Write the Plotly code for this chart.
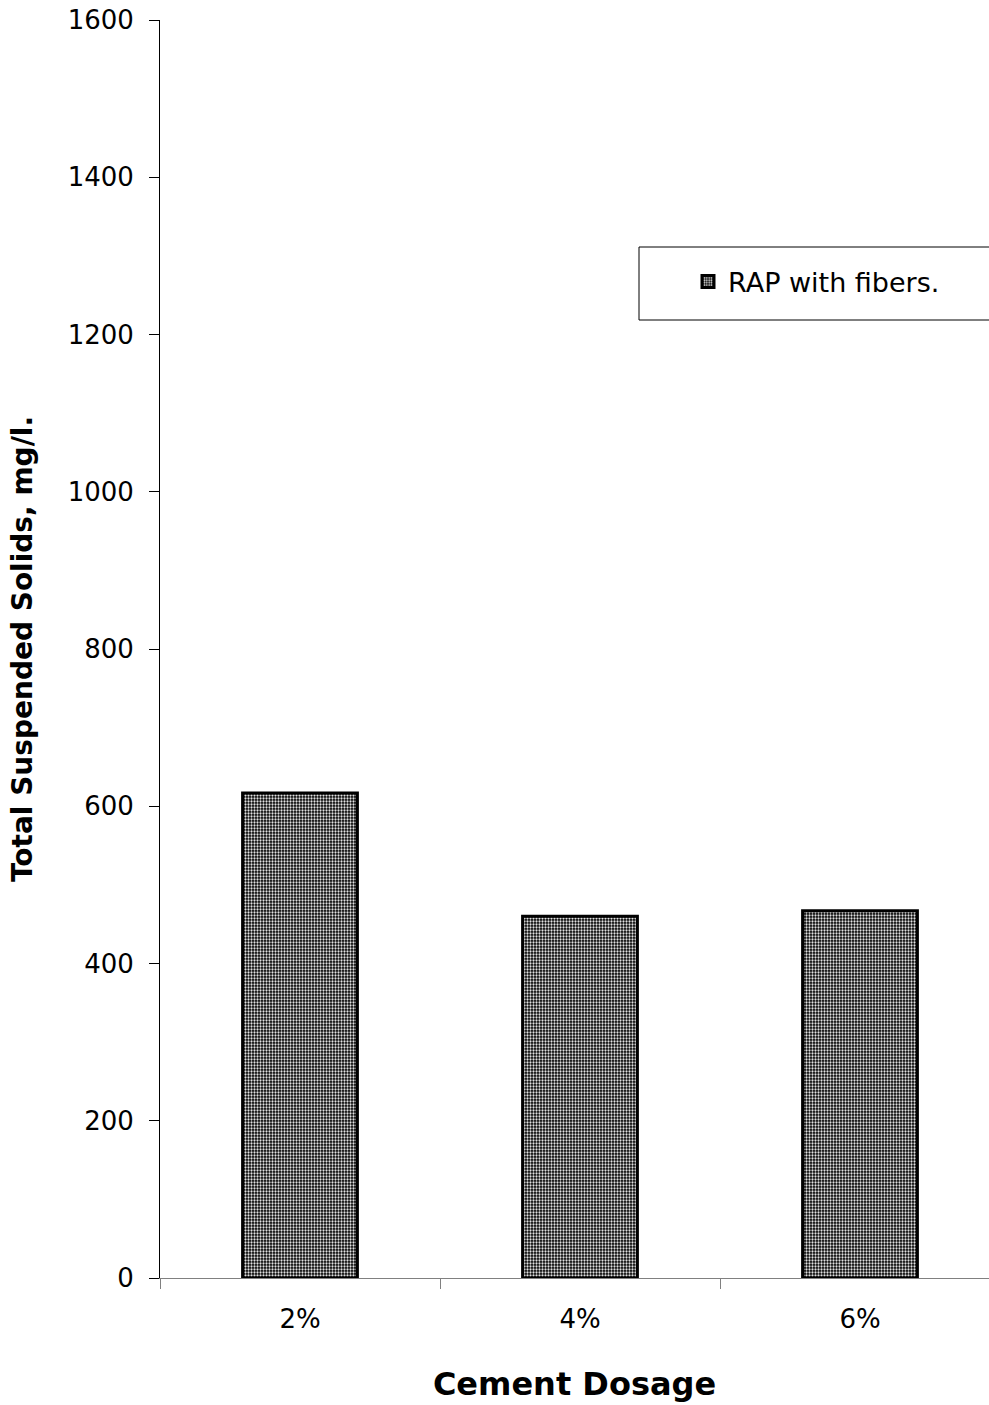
import plotly.graph_objects as go

# Cement dosage categories and measured total suspended solids (mg/l)
dosages = ["2%", "4%", "6%"]
tss_rap_fibers = [617, 460, 467]
series_name = "RAP with fibers."

y_ticks = [0, 200, 400, 600, 800, 1000, 1200, 1400, 1600]

FONT = "DejaVu Sans"

fig = go.Figure()
fig.add_trace(go.Bar(
    x=dosages,
    y=tss_rap_fibers,
    name=series_name,
    width=0.41,
    marker=dict(
        color="black",
        line=dict(color="black", width=3),
        pattern=dict(shape=".", fgcolor="#e0e0e0", bgcolor="black",
                     size=3, solidity=0.45, fillmode="replace"),
    ),
    showlegend=True,
))

# legend frame (runs off the right edge of the page)
fig.add_shape(type="rect", xref="paper", yref="paper",
              x0=(639 - 160) / 829, x1=1.05,
              y0=(1278 - 320) / 1258, y1=(1278 - 247) / 1258,
              line=dict(color="black", width=1), fillcolor="white", layer="below")

fig.update_layout(
    width=989, height=1405,
    margin=dict(l=160, r=0, t=20, b=127, autoexpand=False),
    paper_bgcolor="white", plot_bgcolor="white",
    font=dict(family=FONT, size=26, color="black"),
    bargap=0.59,
    showlegend=True,
    legend=dict(
        x=(688 - 160) / 829, y=(1278 - 282) / 1258,
        xanchor="left", yanchor="middle",
        bgcolor="rgba(0,0,0,0)", borderwidth=0,
        font=dict(family=FONT, size=27, color="black"),
    ),
    xaxis=dict(
        type="category",
        range=[-0.5, 2.5 - 11 / 280],
        tickson="boundaries",
        ticks="outside", ticklen=10, tickcolor="#808080", tickwidth=1,
        showline=True, linecolor="#808080", linewidth=1,
        showgrid=False, zeroline=False,
        tickfont=dict(family=FONT, size=26),
        ticklabelstandoff=18,
        title=dict(text="<b>Cement Dosage</b>", standoff=39,
                   font=dict(family=FONT, size=32)),
    ),
    yaxis=dict(
        range=[0, 1600],
        tickvals=y_ticks,
        ticks="outside", ticklen=10, tickcolor="black", tickwidth=1,
        showline=True, linecolor="black", linewidth=1,
        showgrid=False, zeroline=False,
        tickfont=dict(family=FONT, size=26),
        ticklabelstandoff=10,
        title=dict(text="<b>Total Suspended Solids, mg/l.</b>", standoff=26,
                   font=dict(family=FONT, size=28)),
    ),
)

fig.write_html("out.html")
